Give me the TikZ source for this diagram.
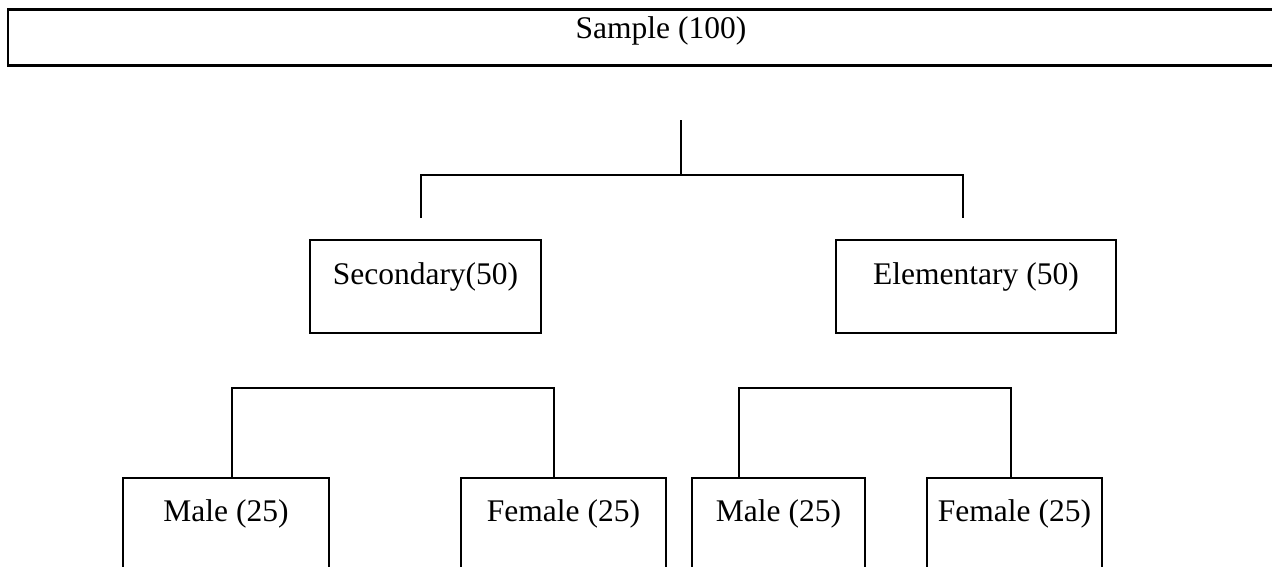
\documentclass[tikz,border=0pt]{standalone}
\usepackage{fontspec}
\setmainfont{Liberation Serif}

\begin{document}
\begin{tikzpicture}[x=1pt, y=-1pt]

\tikzstyle box=[draw, line width=2pt, inner sep=0pt, align=center, font=\fontsize{31.5}{38}\selectfont]
\tikzstyle mid=[box, anchor=north, minimum height=93pt, text height=44pt, text depth=49pt]
\tikzstyle leaf=[box, anchor=north, minimum height=130pt, text height=43pt, text depth=87pt]
\tikzstyle link=[line width=2pt]

\useasboundingbox (0,0) rectangle (1272,566);
\clip (0,0) rectangle (1272,566);

\node (sample) [box, line width=2.7pt, anchor=north, minimum width=1306pt, minimum height=56pt, text height=29pt, text depth=27pt] at (661,8) {Sample (100)};

\node (sec) [mid, minimum width=231pt] at (425.5,239) {Secondary(50)};
\node (ele) [mid, minimum width=280pt] at (976,239) {Elementary (50)};

\node (m1) [leaf, minimum width=206pt] at (226,477)    {Male (25)};
\node (f1) [leaf, minimum width=205pt] at (563.5,477)  {Female (25)};
\node (m2) [leaf, minimum width=173pt] at (778.5,477)  {Male (25)};
\node (f2) [leaf, minimum width=175pt] at (1014.5,477) {Female (25)};

\coordinate (top) at (681,120);
\coordinate (tb) at (681,175);
\coordinate (sd) at (421,218);
\coordinate (ed) at (963,218);

\coordinate (sl) at (232,388);
\coordinate (sr) at (554,388);
\coordinate (el) at (739,388);
\coordinate (er) at (1011,388);

\draw [link] (top) -- (tb);
\draw [link] (sd) -- (sd |- tb) -- (ed |- tb) -- (ed);

\draw [link] (sl |- m1.north) -- (sl) -- (sr) -- (sr |- f1.north);
\draw [link] (el |- m2.north) -- (el) -- (er) -- (er |- f2.north);

\end{tikzpicture}
\end{document}
